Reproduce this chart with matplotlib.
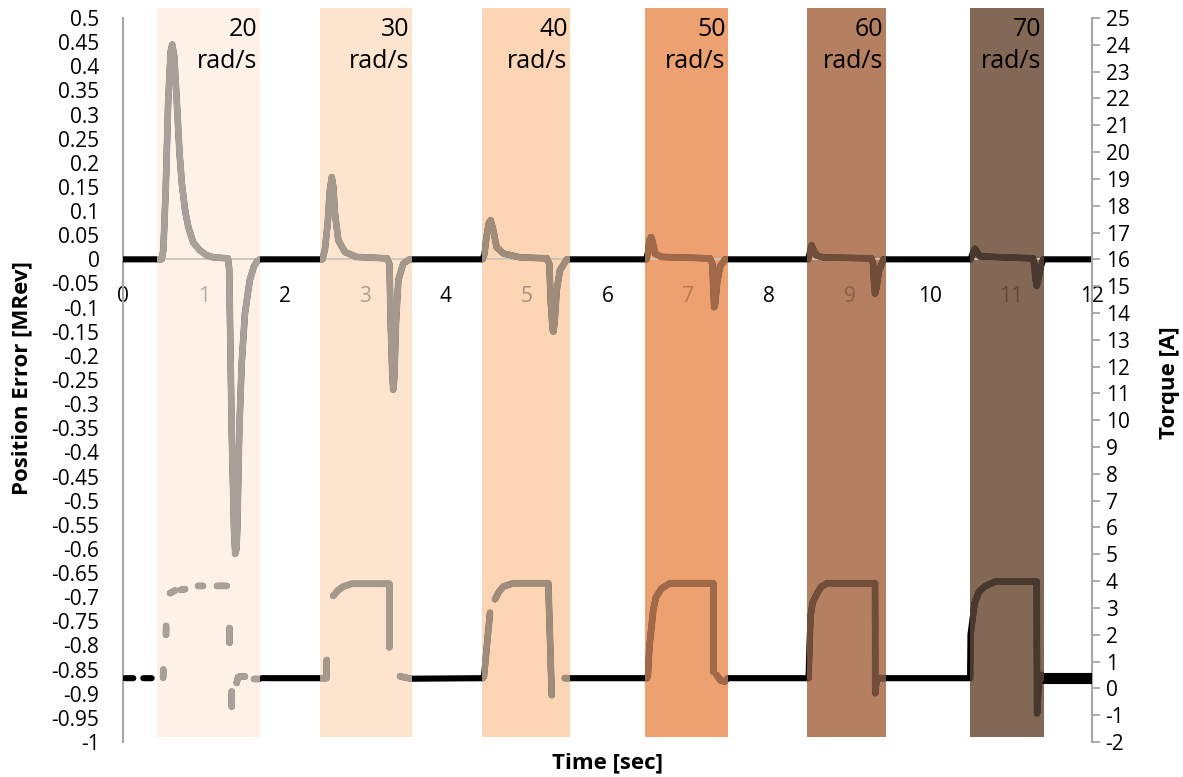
import numpy as np
import matplotlib.pyplot as plt
from matplotlib.patches import Rectangle

plt.rcParams['font.family'] = ['Open Sans', 'DejaVu Sans']

nan = np.nan

# ---- data ----
band_start = [0.425, 2.44, 4.442, 6.464, 8.471, 10.489]
band_end = [1.697, 3.579, 5.536, 7.492, 9.449, 11.406]
band_speed = [20, 30, 40, 50, 60, 70]
band_fill = ['#FEF1E5', '#FDE4CE', '#FCD6B4', '#EDA070', '#B58062', '#836856']
band_line = ['#A8A099', '#A5988C', '#A08C7A', '#A06A4A', '#704E3A', '#48382D']
band_tick = ['#B4ACA5', '#AE9F93', '#A88F7D', '#B97950', '#8A6048', '#5E4A3C']

err_time = [0.0, 0.48,
            0.50, 0.53, 0.56, 0.59, 0.61, 0.635, 0.665, 0.70, 0.73, 0.77, 0.81, 0.87, 0.95, 1.03, 1.12, 1.30,
            1.315, 1.346, 1.375, 1.39, 1.405, 1.415, 1.44, 1.47, 1.51, 1.57, 1.62, 1.66, 1.70,
            2.47, 2.50, 2.535, 2.56, 2.585, 2.605, 2.625, 2.667, 2.75, 2.89, 3.27,
            3.30, 3.315, 3.335, 3.347, 3.36, 3.38, 3.41, 3.47, 3.55,
            4.45, 4.475, 4.50, 4.53, 4.553, 4.58, 4.627, 4.71, 4.92, 5.25,
            5.28, 5.296, 5.32, 5.33, 5.345, 5.371, 5.41, 5.495,
            6.48, 6.50, 6.52, 6.54, 6.56, 6.588, 6.67, 7.27,
            7.30, 7.31, 7.322, 7.335, 7.356, 7.393, 7.455,
            8.485, 8.505, 8.528, 8.55, 8.59, 8.67, 9.27,
            9.29, 9.30, 9.313, 9.33, 9.36, 9.416,
            10.497, 10.52, 10.551, 10.575, 10.613, 11.27,
            11.285, 11.30, 11.315, 11.33, 11.36, 11.397, 12.0]
err_value = [0.0, 0.0,
             0.02, 0.15, 0.33, 0.43, 0.445, 0.42, 0.33, 0.22, 0.155, 0.10, 0.066, 0.035, 0.019, 0.009, 0.004, 0.002,
             -0.02, -0.354, -0.56, -0.61, -0.60, -0.56, -0.354, -0.215, -0.112, -0.043, -0.015, -0.004, 0.0,
             0.0, 0.02, 0.075, 0.14, 0.17, 0.15, 0.095, 0.039, 0.015, 0.005, 0.002,
             -0.01, -0.133, -0.24, -0.27, -0.245, -0.133, -0.043, -0.009, 0.0,
             0.0, 0.01, 0.045, 0.075, 0.081, 0.065, 0.025, 0.012, 0.004, 0.002,
             -0.01, -0.085, -0.145, -0.15, -0.13, -0.064, -0.023, 0.0,
             0.0, 0.015, 0.04, 0.046, 0.035, 0.012, 0.005, 0.002,
             -0.01, -0.06, -0.099, -0.09, -0.05, -0.015, 0.0,
             0.0, 0.015, 0.029, 0.02, 0.008, 0.004, 0.002,
             -0.01, -0.045, -0.071, -0.06, -0.025, 0.0,
             0.0, 0.012, 0.022, 0.015, 0.006, 0.002,
             -0.01, -0.04, -0.055, -0.045, -0.02, 0.0, 0.0]

torque_time = [0.025, 0.128, nan, 0.251, 0.355, nan,
               0.497, 0.499, nan, 0.533, 0.533, nan, 0.582, 0.644, nan, 0.715, 0.768, nan,
               0.929, 0.991, nan, 1.164, 1.284, nan, 1.319, 1.319, nan, 1.346, 1.346, nan,
               1.407, 1.425, 1.449, 1.511, nan, 1.622, 1.688, nan,
               1.72, 1.745, nan, 1.77, 2.52, 2.523, nan,
               2.605, 2.66, 2.729, 2.832, 3.298, 3.298, nan,
               3.43, 3.50, 3.575, 4.455, 4.47, 4.545, nan,
               4.607, 4.655, 4.71, 4.833, 5.267, 5.309, nan,
               5.47, 6.49, 6.50, 6.52, 6.567, 6.60, 6.671, 6.774, 7.31, 7.31, nan,
               7.35, 7.40, 7.45, 7.49, 8.49, 8.50, 8.514, 8.54, 8.597, 8.65, 8.721, 9.313, 9.316, 9.335,
               10.49, 10.495, 10.546, 10.60, 10.67, 10.80, 11.315, 11.32, 11.34, 11.38, 11.40]
torque_value = [0.38, 0.38, nan, 0.38, 0.38, nan,
                0.40, 0.70, nan, 2.0, 2.33, nan, 3.55, 3.65, nan, 3.67, 3.70, nan,
                3.82, 3.82, nan, 3.82, 3.82, nan, 2.25, 1.70, nan, -0.12, -0.68, nan,
                0.20, 0.42, 0.44, 0.44, nan, 0.35, 0.35, nan,
                0.38, 0.38, nan, 0.38, 0.38, 1.06, nan,
                3.45, 3.65, 3.80, 3.90, 3.90, 1.53, nan,
                0.45, 0.40, 0.36, 0.38, 0.44, 2.82, nan,
                3.32, 3.60, 3.80, 3.92, 3.92, -0.25, nan,
                0.38, 0.38, 0.50, 1.60, 2.93, 3.40, 3.73, 3.92, 3.92, 0.62, nan,
                0.50, 0.30, 0.25, 0.38, 0.38, 1.50, 2.68, 3.20, 3.55, 3.80, 3.92, 3.92, -0.18, 0.38,
                0.38, 2.00, 3.18, 3.60, 3.80, 3.98, 3.98, -0.93, 0.20, 0.50, 0.38]

tail_time = [11.40, 12.0]
tail_value = [0.38, 0.38]

x_ticks = list(range(0, 13))
err_ticks = np.arange(-1.0, 0.5001, 0.05)
torque_ticks = list(range(-2, 26))

# ---- figure ----
W, H = 1183, 777
fig = plt.figure(figsize=(W / 100, H / 100), dpi=100)
ax = fig.add_axes([123 / W, 35 / H, (1092 - 123) / W, (742 - 18) / H])
ax.set_xlim(0, 12)
ax.set_ylim(-1, 0.5)
ax2 = ax.twinx()
ax2.set_ylim(-2, 25)

axis_gray = '#A6A6A6'
lw = 4.4

# bands
for s, e, f in zip(band_start, band_end, band_fill):
    ax.add_patch(Rectangle((s, -0.99), e - s, 1.51, facecolor=f, edgecolor='none',
                           zorder=0, clip_on=False))

# error series
ax.plot(err_time, err_value, color='black', lw=lw, solid_capstyle='round',
        solid_joinstyle='round', zorder=3)
for s, e, c in zip(band_start, band_end, band_line):
    ln, = ax.plot(err_time, err_value, color=c, lw=lw + 0.4, solid_capstyle='round',
                  solid_joinstyle='round', zorder=4)
    ln.set_clip_path(Rectangle((s, -2), e - s, 4, transform=ax.transData))

# torque series
ax2.plot(torque_time, torque_value, color='black', lw=lw, solid_capstyle='round',
         solid_joinstyle='round', zorder=3)
ax2.plot(tail_time, tail_value, color='black', lw=8, solid_capstyle='round', zorder=3)
for s, e, c in zip(band_start, band_end, band_line):
    ln, = ax2.plot(torque_time, torque_value, color=c, lw=lw + 0.4, solid_capstyle='round',
                   solid_joinstyle='round', zorder=4)
    ln.set_clip_path(Rectangle((s, -10), e - s, 40, transform=ax2.transData))

# band labels
for s, e, v in zip(band_start, band_end, band_speed):
    ax.text(e - 0.03, 0.503, f"{v}\nrad/s", ha='right', va='top', fontsize=18,
            multialignment='right', color='black', zorder=6, linespacing=1.4)

# axes styling
ax.spines['top'].set_visible(False)
ax.spines['right'].set_visible(False)
ax.spines['left'].set_color(axis_gray)
ax.spines['left'].set_linewidth(1.5)
ax.spines['bottom'].set_position(('data', 0))
ax.spines['bottom'].set_color('#CCC4BC')
ax.spines['bottom'].set_linewidth(1.3)
ax.set_xticks(x_ticks)
ax.set_xticklabels([str(t) for t in x_ticks])
ax.tick_params(axis='x', length=0, pad=19, labelsize=15)
ax.set_yticks(err_ticks)
ax.set_yticklabels([f"{round(v, 2) + 0:g}" for v in err_ticks])
ax.tick_params(axis='y', length=0, pad=17, labelsize=15)

for lab, t in zip(ax.get_xticklabels(), x_ticks):
    for s, e, c in zip(band_start, band_end, band_tick):
        if s < t < e:
            lab.set_color(c)

for sp in ['top', 'left', 'bottom']:
    ax2.spines[sp].set_visible(False)
ax2.spines['right'].set_color(axis_gray)
ax2.spines['right'].set_linewidth(1.5)
ax2.set_yticks(torque_ticks)
ax2.set_yticklabels([str(t) for t in torque_ticks])
ax2.tick_params(axis='y', direction='out', length=5.8, width=1.3, color=axis_gray,
                pad=4, labelsize=15)

fig.text(22 / W, 1 - 378 / H, 'Position Error [MRev]', rotation=90, fontweight='bold',
         fontsize=16, ha='center', va='center')
fig.text(1170 / W, 1 - 383 / H, 'Torque [A]', rotation=90, fontweight='bold',
         fontsize=16, ha='center', va='center')
fig.text(607 / W, 1 - 763 / H, 'Time [sec]', fontweight='bold', fontsize=16,
         ha='center', va='center')

fig.savefig('out.png', dpi=100)
